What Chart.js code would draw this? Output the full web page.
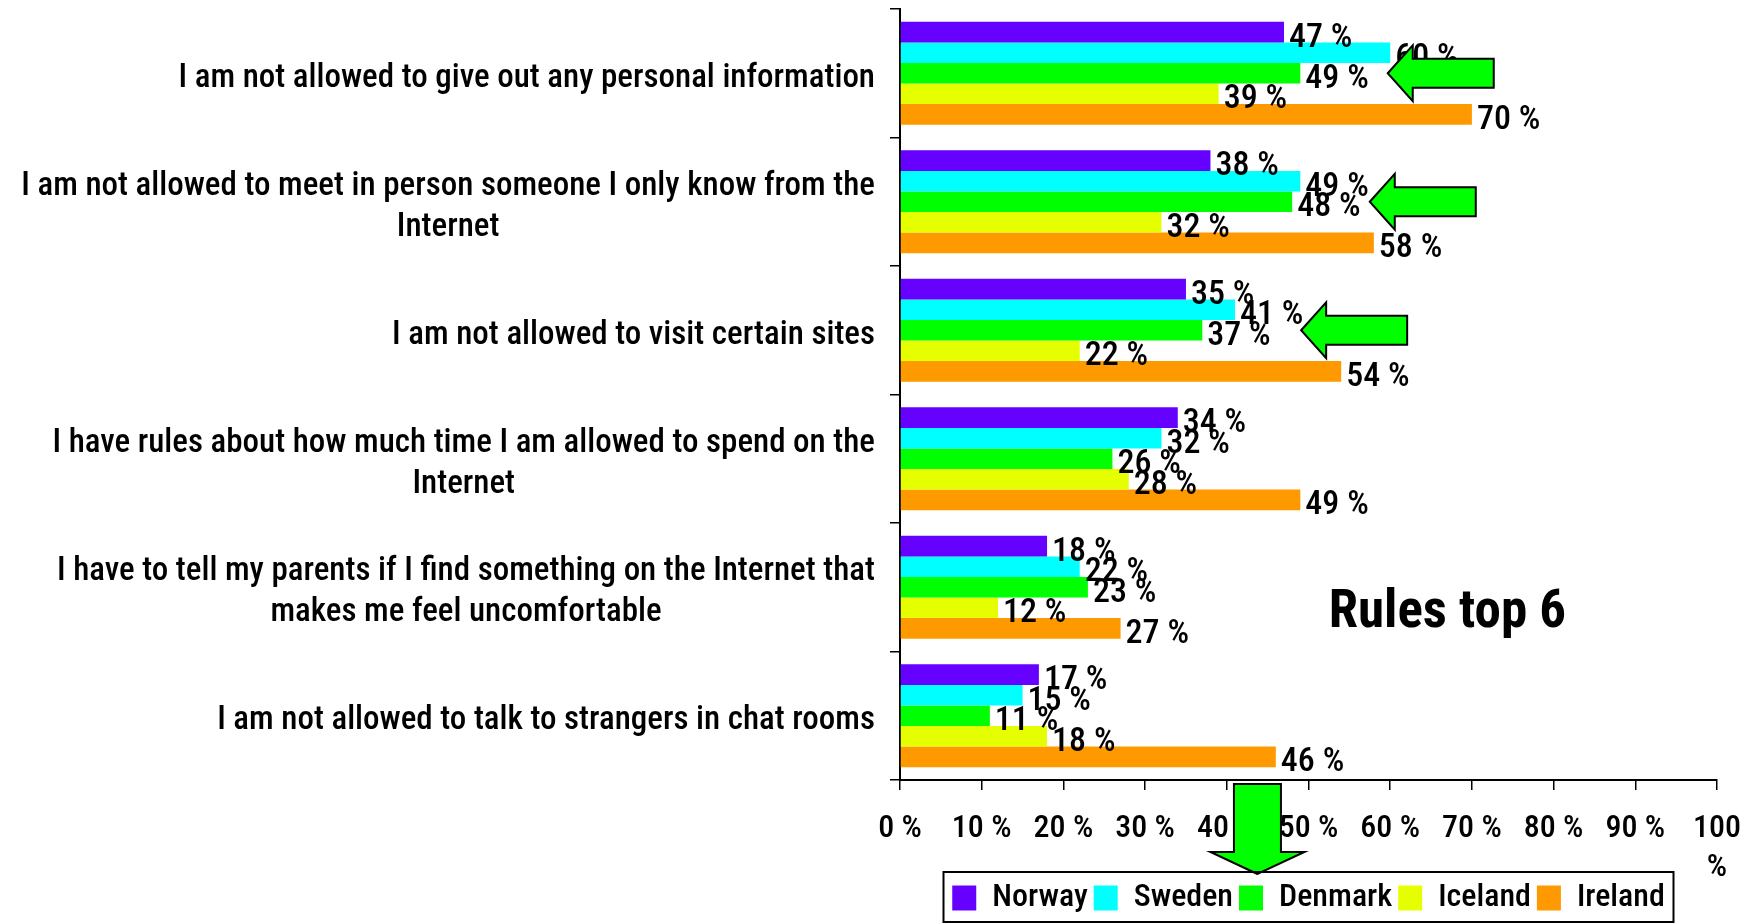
<!DOCTYPE html>
<html>
<head>
<meta charset="utf-8">
<title>Rules top 6</title>
<script src="https://cdn.jsdelivr.net/npm/chart.js@4.4.1/dist/chart.umd.min.js"></script>
<style>
  html, body { margin: 0; padding: 0; background: #fff; overflow: hidden; }
  #wrap { width: 1743px; height: 924px; position: relative; }
</style>
</head>
<body>
<div id="wrap"><canvas id="rules"></canvas></div>
<script>
// Survey answers, one entry per rule (multi-line labels as arrays)
const categories = [
  ["I am not allowed to give out any personal information"],
  ["I am not allowed to meet in person someone I only know from the", "Internet"],
  ["I am not allowed to visit certain sites"],
  ["I have rules about how much time I am allowed to spend on the", "Internet"],
  ["I have to tell my parents if I find something on the Internet that", "makes me feel uncomfortable"],
  ["I am not allowed to talk to strangers in chat rooms"],
];
const countries = ["Norway", "Sweden", "Denmark", "Iceland", "Ireland"];
const norway  = [47, 38, 35, 34, 18, 17];
const sweden  = [60, 49, 41, 32, 22, 15];
const denmark = [49, 48, 37, 26, 23, 11];
const iceland = [39, 32, 22, 28, 12, 18];
const ireland = [70, 58, 54, 49, 27, 46];
const barColors = ["#6600ff", "#00ffff", "#00ff00", "#e6ff00", "#ff9900"];
const tickLabels = ["0 %", "10 %", "20 %", "30 %", "40 %", "50 %", "60 %", "70 %", "80 %", "90 %", ["100", "%"]];

// Green call-out arrows: tips in axis units (percent, category index)
const leftArrowTips = [[59.7, 0], [57.5, 1], [49.1, 2]];
const downArrowAt = 43.75;
const chartTitle = "Rules top 6";

const FONT = "'Roboto Condensed', 'Liberation Sans', sans-serif";
const WEIGHT = 500;

function leftArrow(ctx, tx, ty) {
  const len = 106, head = 25, hh = 28, sh = 14.5;
  ctx.beginPath();
  ctx.moveTo(tx, ty);
  ctx.lineTo(tx + head, ty - hh);
  ctx.lineTo(tx + head, ty - sh);
  ctx.lineTo(tx + len, ty - sh);
  ctx.lineTo(tx + len, ty + sh);
  ctx.lineTo(tx + head, ty + sh);
  ctx.lineTo(tx + head, ty + hh);
  ctx.closePath();
  ctx.fill();
  ctx.stroke();
}

function downArrow(ctx, tx, top, tipY) {
  const head = 22, hw = 47, sw = 23.5;
  ctx.beginPath();
  ctx.moveTo(tx, tipY);
  ctx.lineTo(tx - hw, tipY - head);
  ctx.lineTo(tx - sw, tipY - head);
  ctx.lineTo(tx - sw, top);
  ctx.lineTo(tx + sw, top);
  ctx.lineTo(tx + sw, tipY - head);
  ctx.lineTo(tx + hw, tipY - head);
  ctx.closePath();
  ctx.fill();
  ctx.stroke();
}

const decorations = {
  id: "decorations",
  afterDraw(chart) {
    const { ctx, chartArea, scales: { x, y } } = chart;
    ctx.save();

    // value labels at the end of each bar
    ctx.font = `${WEIGHT} 34px ${FONT}`;
    ctx.fillStyle = "#000";
    ctx.textAlign = "left";
    ctx.textBaseline = "middle";
    chart.data.datasets.forEach((ds, di) => {
      chart.getDatasetMeta(di).data.forEach((bar, i) => {
        ctx.fillText(`${ds.data[i]} %`, bar.x + 5, bar.y + 6);
      });
    });

    // category labels: block right-aligned, lines centred inside the block
    ctx.font = `${WEIGHT} 33px ${FONT}`;
    const right = chartArea.left - 25;
    const lh = 41;
    categories.forEach((lines, i) => {
      const cy = y.getPixelForValue(i);
      const widths = lines.map((l) => ctx.measureText(l).width);
      const blockW = Math.max(...widths);
      ctx.textAlign = "center";
      lines.forEach((l, k) => {
        const ly = cy + (k - (lines.length - 1) / 2) * lh + 5;
        ctx.fillText(l, right - blockW / 2, ly);
      });
    });

    // title inside the plot
    ctx.font = `bold 53px ${FONT}`;
    ctx.textAlign = "center";
    ctx.textBaseline = "alphabetic";
    ctx.fillText(chartTitle, x.getPixelForValue(67), y.getPixelForValue(4.31));

    // arrows
    ctx.fillStyle = "#00ff00";
    ctx.strokeStyle = "#000";
    ctx.lineWidth = 2;
    ctx.lineJoin = "miter";
    leftArrowTips.forEach(([v, i]) => {
      leftArrow(ctx, x.getPixelForValue(v), y.getPixelForValue(i));
    });
    downArrow(ctx, x.getPixelForValue(downArrowAt), chartArea.bottom + 4, chartArea.bottom + 94);

    // frame around the legend
    const boxes = chart.legend.legendHitBoxes;
    if (boxes.length) {
      const first = boxes[0];
      const last = boxes[boxes.length - 1];
      const cy = first.top + first.height / 2;
      const l = Math.round(first.left - 9) + 0.5;
      const r = Math.round(last.left + last.width + 8) + 0.5;
      ctx.strokeStyle = "#000";
      ctx.lineWidth = 2;
      ctx.strokeRect(l, Math.round(cy - 26), r - l, 50);
    }
    ctx.restore();
  },
};

const seriesValues = [norway, sweden, denmark, iceland, ireland];

new Chart(document.getElementById("rules"), {
  type: "bar",
  data: {
    labels: categories.map((c) => c.join(" ")),
    datasets: countries.map((name, i) => ({
      label: name,
      data: seriesValues[i],
      backgroundColor: barColors[i],
      borderWidth: 0,
      categoryPercentage: 0.8,
      barPercentage: 1.0,
    })),
  },
  options: {
    indexAxis: "y",
    responsive: true,
    maintainAspectRatio: false,
    animation: false,
    layout: { padding: { top: 9, right: 26, left: 0, bottom: 0 } },
    scales: {
      x: {
        min: 0,
        max: 100,
        ticks: {
          stepSize: 10,
          padding: 20,
          color: "#000",
          font: { family: FONT, size: 32, weight: WEIGHT, lineHeight: 1.2 },
          maxRotation: 0,
          autoSkip: false,
          callback: (v, i) => tickLabels[i],
        },
        grid: { drawOnChartArea: false, tickLength: 10, color: "#000", lineWidth: 1.5 },
        border: { color: "#000", width: 2 },
        afterFit: (scale) => {
          scale.height = 96;
          // let the last tick label run to the canvas edge
          scale.paddingLeft = 0;
          scale.paddingRight = 0;
        },
      },
      y: {
        ticks: { display: false },
        grid: { drawOnChartArea: false, offset: true, tickLength: 10, color: "#000", lineWidth: 1.5 },
        border: { color: "#000", width: 2 },
        afterFit: (scale) => { scale.width = 900; },
      },
    },
    plugins: {
      tooltip: { enabled: false },
      legend: {
        position: "bottom",
        fullSize: false,
        labels: {
          boxWidth: 24,
          boxHeight: 25,
          padding: 6,
          color: "#000",
          font: { family: FONT, size: 32, weight: WEIGHT },
        },
      },
    },
  },
  plugins: [decorations],
});
</script>
</body>
</html>
